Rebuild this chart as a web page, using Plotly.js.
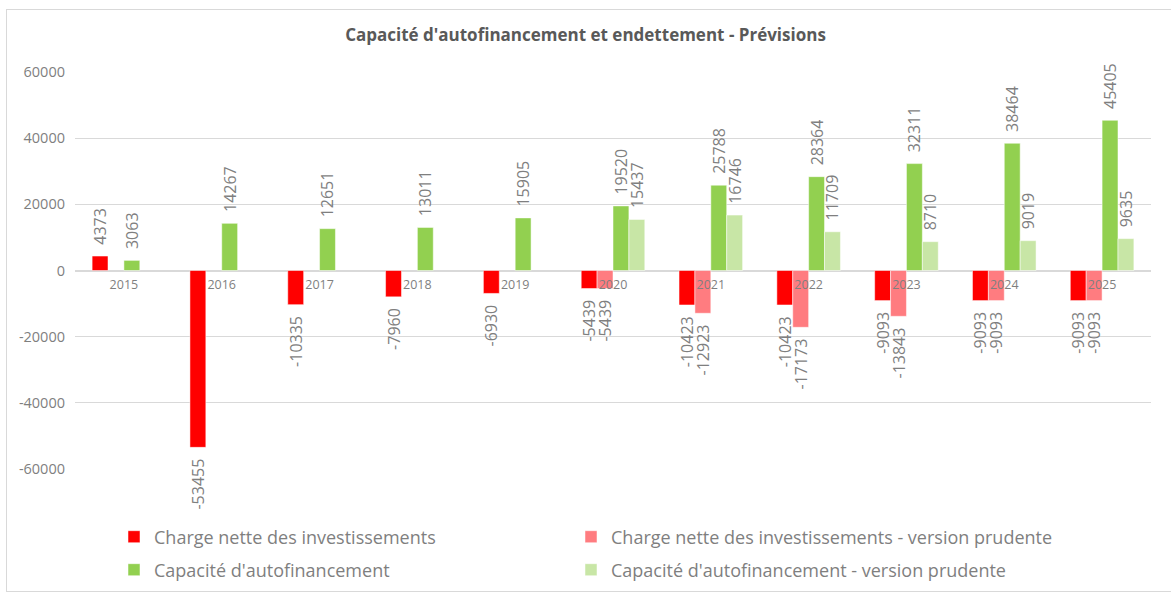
<!DOCTYPE html>
<html>
<head>
<meta charset="utf-8">
<script src="https://cdn.plot.ly/plotly-3.0.1.min.js"></script>
<style>
  body { margin: 0; background: #fff; overflow: hidden; }
  #cadre { position: absolute; left: 6px; top: 9px; width: 1200px; height: 581px; border: 1px solid #d9d9d9; border-right: none; }
  #graphe { position: absolute; left: 0; top: 0; width: 1171px; height: 593px; }
</style>
</head>
<body>
<div id="cadre"></div>
<div id="graphe"></div>
<script>
const annees = ['2015', '2016', '2017', '2018', '2019', '2020', '2021', '2022', '2023', '2024', '2025'];
const chargeNette = [4373, -53455, -10335, -7960, -6930, -5439, -10423, -10423, -9093, -9093, -9093];
const chargeNettePrudente = [null, null, null, null, null, -5439, -12923, -17173, -13843, -9093, -9093];
const capacite = [3063, 14267, 12651, 13011, 15905, 19520, 25788, 28364, 32311, 38464, 45405];
const capacitePrudente = [null, null, null, null, null, 15437, 16746, 11709, 8710, 9019, 9635];

const valeursY = [-60000, -40000, -20000, 0, 20000, 40000, 60000];
const textesY = ['-60000', '-40000', '-20000', '0', '20000', '40000', '60000'];

const police = '"Open Sans", "Liberation Sans", sans-serif';
const gris = '#7f7f7f';
const ecart = '\u00a0\u00a0';

// etiquette tournee : on ajoute un petit blanc du cote de la barre
function etiquette(v) {
    if (v === null) return '';
    return v < 0 ? String(v) + ecart : ecart + String(v);
}

function serie(nom, valeurs, couleur, legende) {
    return {
        type: 'bar',
        name: nom,
        legend: legende,
        x: annees,
        y: valeurs,
        text: valeurs.map(etiquette),
        textposition: 'outside',
        textangle: -90,
        constraintext: 'none',
        cliponaxis: false,
        textfont: { family: police, size: 16, color: gris },
        marker: { color: couleur, line: { color: '#ffffff', width: 0.5 } },
        hoverinfo: 'x+y+name'
    };
}

const data = [
    serie('Charge nette des investissements', chargeNette, '#ff0000', 'legend'),
    serie('Charge nette des investissements - version prudente', chargeNettePrudente, '#ff7c80', 'legend2'),
    serie("Capacité d'autofinancement", capacite, '#92d050', 'legend3'),
    serie("Capacité d'autofinancement - version prudente", capacitePrudente, '#c8e6a6', 'legend4')
];

// une legende par case : colonne (px du bord gauche), ligne (px du haut)
function legende(xPx, yPx) {
    return {
        orientation: 'h',
        xref: 'container', yref: 'container',
        x: xPx / 1171, xanchor: 'left',
        y: 1 - yPx / 593, yanchor: 'middle',
        font: { family: police, size: 18, color: gris },
        bgcolor: 'rgba(0,0,0,0)'
    };
}

const layout = {
    width: 1171,
    height: 593,
    margin: { l: 75, r: 20, t: 72, b: 124 },
    paper_bgcolor: 'rgba(0,0,0,0)',
    plot_bgcolor: 'rgba(0,0,0,0)',
    font: { family: police, color: gris },
    title: {
        text: "<b>Capacité d'autofinancement et endettement - Prévisions</b>",
        font: { family: police, size: 17, color: '#595959' },
        x: 0.5, xanchor: 'center', y: 1 - 35 / 593, yanchor: 'middle'
    },
    barmode: 'group',
    bargap: 0.35,
    bargroupgap: 0,
    showlegend: true,
    legend: legende(114, 537),
    legend2: legende(571, 537),
    legend3: legende(114, 570),
    legend4: legende(571, 570),
    xaxis: {
        type: 'category',
        anchor: 'free',
        position: 0.5,
        showgrid: false,
        showline: false,
        ticks: '',
        ticklabelstandoff: 5,
        tickfont: { family: police, size: 12.5, color: gris },
        fixedrange: true
    },
    yaxis: {
        range: [-60000, 60000],
        tickvals: valeursY,
        ticktext: textesY,
        showgrid: true,
        gridcolor: '#d9d9d9',
        gridwidth: 1,
        zeroline: true,
        zerolinecolor: '#d9d9d9',
        zerolinewidth: 1.5,
        ticks: '',
        ticklabelstandoff: 9,
        tickfont: { family: police, size: 14.5, color: gris },
        fixedrange: true
    }
};

Plotly.newPlot('graphe', data, layout, { displayModeBar: false, responsive: false });
</script>
</body>
</html>
